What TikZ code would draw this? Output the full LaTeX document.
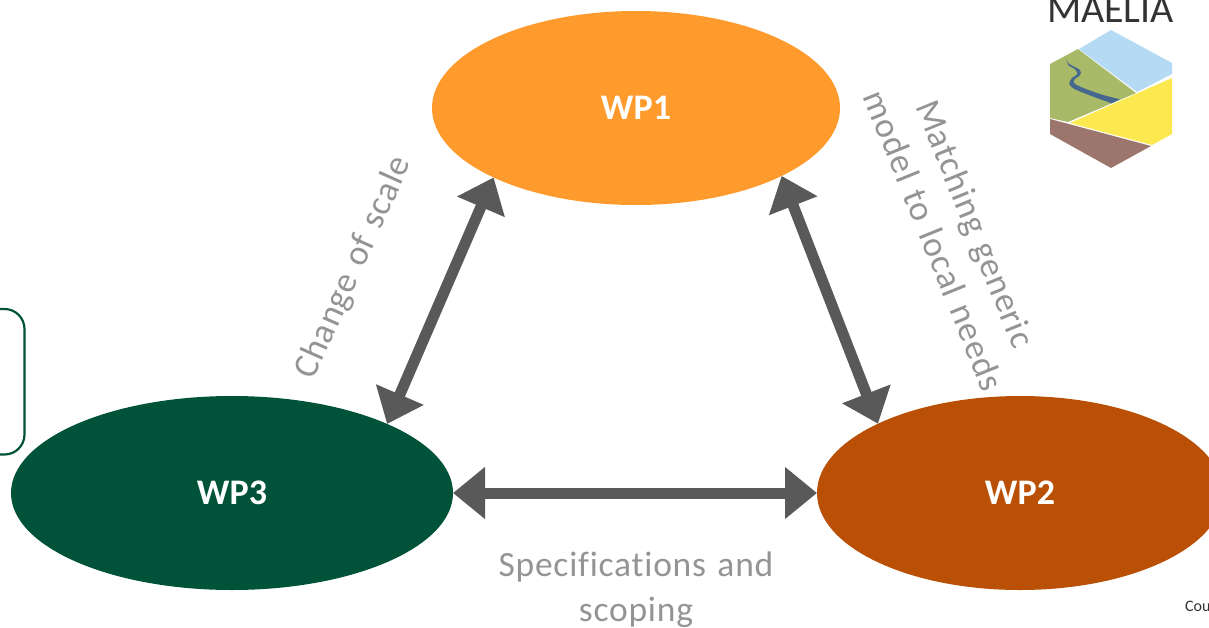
\documentclass[tikz,border=0pt]{standalone}
\usepackage{fontspec}
\setmainfont{Carlito}
\newfontfamily\spaced[LetterSpace=2.2,Ligatures=NoCommon,WordSpace=1.3]{Carlito}
\usetikzlibrary{arrows.meta,shapes.geometric}
\definecolor{wpone}{HTML}{FF9A2D}
\definecolor{wptwo}{HTML}{BA5006}
\definecolor{wpthree}{HTML}{005238}
\definecolor{arrowgray}{HTML}{595959}
\definecolor{labelgray}{HTML}{949494}
\definecolor{logoblue}{HTML}{B5DAF4}
\definecolor{logogreen}{HTML}{A8BA68}
\definecolor{logoyellow}{HTML}{FBE94F}
\definecolor{logobrown}{HTML}{9C766C}
\definecolor{logoriver}{HTML}{46688F}
\tikzset{
  wp/.style={ellipse,inner sep=0pt,outer sep=0pt,text=white,font=\fontsize{36}{40}\selectfont\bfseries},
  link/.style={draw=arrowgray,line width=11pt,{Triangle[length=32pt,width=50pt]}-{Triangle[length=32pt,width=50pt]}},
  lab/.style={text=labelgray,font=\spaced\fontsize{35.5}{45}\selectfont,align=center,inner sep=0pt},
}
\begin{document}
\begin{tikzpicture}[x=1pt,y=-1pt]
\useasboundingbox (0,0) rectangle (1209,627);
\clip (0,0) rectangle (1209,627);
\node[wp,fill=wpone,minimum width=408pt,minimum height=194pt] (wp1) at (636,108) {WP1};
\node[wp,fill=wptwo,minimum width=406pt,minimum height=194pt] (wp2) at (1020,493) {WP2};
\node[wp,fill=wpthree,minimum width=442pt,minimum height=194pt] (wp3) at (232,493) {WP3};
\draw[link] (wp1.206) -- (wp3.24);
\draw[link] (wp1.-25) -- (wp2.154);
\draw[link] (wp3.east) -- (wp2.west);
\node[lab,rotate=66] (l1) at (354,268) {Change of scale};
\node[lab,rotate=-68] (l2) at (955,232) {Matching generic\\model to local needs};
\node[lab] (l3) at (636,589.5) {Specifications and\\scoping};
\draw[wpthree,line width=2.2pt,rounded corners=20pt] (-40,309) rectangle (24.5,454.5);
\node[inner sep=0pt,anchor=base west,text=black!80,font=\fontsize{16}{18}\selectfont] (cou) at (1185,611) {Cou};
\node[inner sep=0pt,anchor=base,text=black!80,font=\fontsize{40}{44}\selectfont] (maelia) at (1110.5,22) {MAELIA};
\fill[logoblue] (1079,49) -- (1111,30) -- (1172,63) -- (1172,74) -- (1137,92) -- cycle;
\fill[logogreen] (1078,49) -- (1136,93) -- (1068,122) -- (1050,118) -- (1050,64) -- cycle;
\fill[logoyellow] (1172,78) -- (1172,134) -- (1152,145) -- (1070,123) -- cycle;
\fill[logobrown] (1050,119) -- (1151,146) -- (1111,168) -- (1050,134) -- cycle;
\fill[logoriver] plot[smooth,tension=.5] coordinates {(1065.7,57.3) (1068.3,63.3) (1080,70) (1080,75) (1074,80) (1075,84) (1086.7,89.3) (1103.3,95) (1120,99.3)}
  -- plot[smooth,tension=.5] coordinates {(1111.7,103.3) (1093.3,96.7) (1075,89.3) (1069.3,84) (1071.7,78.3) (1077.3,74) (1075,69.3) (1068.3,65) (1065.7,57.3)} -- cycle;
\end{tikzpicture}
\end{document}
